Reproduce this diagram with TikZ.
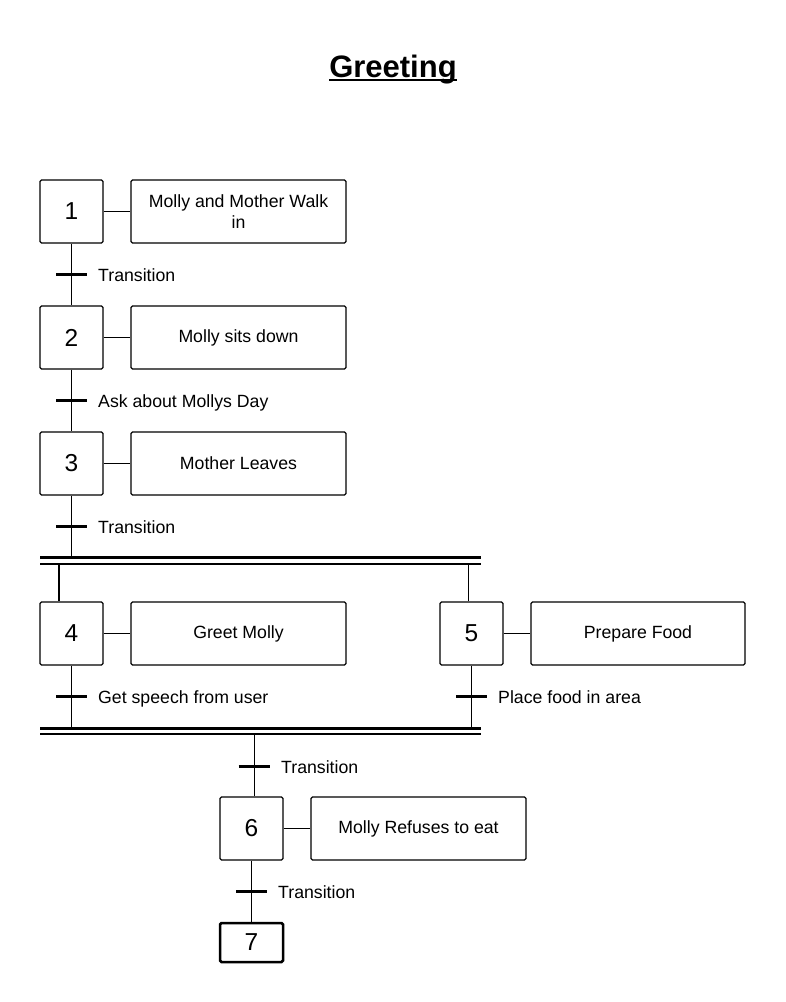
\documentclass[tikz,border=0pt]{standalone}
\usepackage{fontspec}
\setmainfont{Liberation Sans}
\begin{document}
\begin{tikzpicture}[x=1pt,y=-1pt,
  stepbox/.style={draw,line width=1.3pt,rounded corners=1.5pt,minimum width=63pt,
    minimum height=63pt,inner sep=0pt,font=\fontsize{24.5}{28}\selectfont},
  actbox/.style={draw,line width=1.3pt,rounded corners=1.5pt,minimum width=215pt,
    minimum height=63pt,inner sep=0pt,align=center,font=\fontsize{17.7}{21}\selectfont},
  link/.style={line width=1pt},
  bar/.style={line width=3pt},
  thinbar/.style={line width=1.3pt},
  lbl/.style={anchor=base west,inner sep=0pt,font=\fontsize{17.7}{21}\selectfont},
]
\useasboundingbox (0,0) rectangle (786,1002);

% title
\node[anchor=base,inner sep=0pt,font=\bfseries\fontsize{31}{36}\selectfont] (title) at (393,77) {Greeting};
\draw[line width=2pt] ([yshift=-3pt]title.base west) -- ([yshift=-3pt]title.base east);

% steps
\node[stepbox] (s1) at (71.5,211.5) {\raisebox{-1pt}{1}};
\node[stepbox] (s2) at (71.5,337.5) {\raisebox{-1pt}{2}};
\node[stepbox] (s3) at (71.5,463.5) {\raisebox{-1pt}{3}};
\node[stepbox] (s4) at (71.5,633.5) {\raisebox{-1pt}{4}};
\node[stepbox] (s5) at (471.5,633.5) {\raisebox{-1pt}{5}};
\node[stepbox] (s6) at (251.5,828.5) {\raisebox{-1pt}{6}};
\node[stepbox,minimum height=39pt,line width=2.5pt] (s7) at (251.5,942.5) {7};

% actions
\node[actbox] (a1) at (238.5,211.5) {Molly and Mother Walk\\in};
\node[actbox] (a2) at (238.5,337.5) {\raisebox{-1pt}{Molly sits down}};
\node[actbox] (a3) at (238.5,463.5) {\raisebox{-1pt}{Mother Leaves}};
\node[actbox] (a4) at (238.5,633.5) {\raisebox{-1pt}{Greet Molly}};
\node[actbox,minimum width=214pt] (a5) at (638,633.5) {\raisebox{-1pt}{Prepare Food}};
\node[actbox] (a6) at (418.5,828.5) {\raisebox{-1pt}{Molly Refuses to eat}};

\foreach \i in {1,...,5} \draw[link] (s\i.east) -- (a\i.west);
\draw[line width=1.8pt] (s6.east) -- (a6.west);

% transition points
\coordinate (t1) at (71.5,274);
\coordinate (t2) at (71.5,400);
\coordinate (t3) at (71.5,526);
\coordinate (t4) at (71.5,696);
\coordinate (t5) at (471.5,696);
\coordinate (t6) at (254,766);
\coordinate (t7) at (251.5,891);

% parallel divergence / convergence bars
\coordinate (da) at (40,557.5);  \coordinate (db) at (481,557.5);
\coordinate (dc) at (40,564);    \coordinate (dd) at (481,564);
\coordinate (ca) at (40,728);    \coordinate (cb) at (481,728);
\coordinate (cc) at (40,734);    \coordinate (cd) at (481,734);
\draw[bar] (da) -- (db);
\draw[thinbar] (dc) -- (dd);
\draw[bar] (ca) -- (cb);
\draw[thinbar] (cc) -- (cd);

% vertical links
\draw[link] (s1.south) -- (s2.north);
\draw[link] (s2.south) -- (s3.north);
\draw[link] (s3.south) -- (s3.south |- da);
\coordinate (f4) at (59,564);
\coordinate (f5) at (468,564);
\draw[line width=2pt] (f4) -- (f4 |- s4.north);
\draw[link] (f5) -- (f5 |- s5.north);
\draw[link] (s4.south) -- (s4.south |- ca);
\draw[link] (s5.south) -- (s5.south |- ca);
\coordinate (m6) at (254,734);
\draw[link] (m6) -- (m6 |- s6.north);
\draw[link] (s6.south) -- (s7.north);

% transition bars
\foreach \t in {t1,t2,t3,t4,t5,t6,t7}
  \draw[bar] ([xshift=-15.5pt]\t) -- ([xshift=15.5pt]\t);

% transition labels
\node[lbl] (l1) at (98,281) {Transition};
\node[lbl] (l2) at (98,407) {Ask about Mollys Day};
\node[lbl] (l3) at (98,533) {Transition};
\node[lbl] (l4) at (98,703) {Get speech from user};
\node[lbl] (l5) at (498,703) {Place food in area};
\node[lbl] (l6) at (281,773) {Transition};
\node[lbl] (l7) at (278,898) {Transition};
\end{tikzpicture}
\end{document}
